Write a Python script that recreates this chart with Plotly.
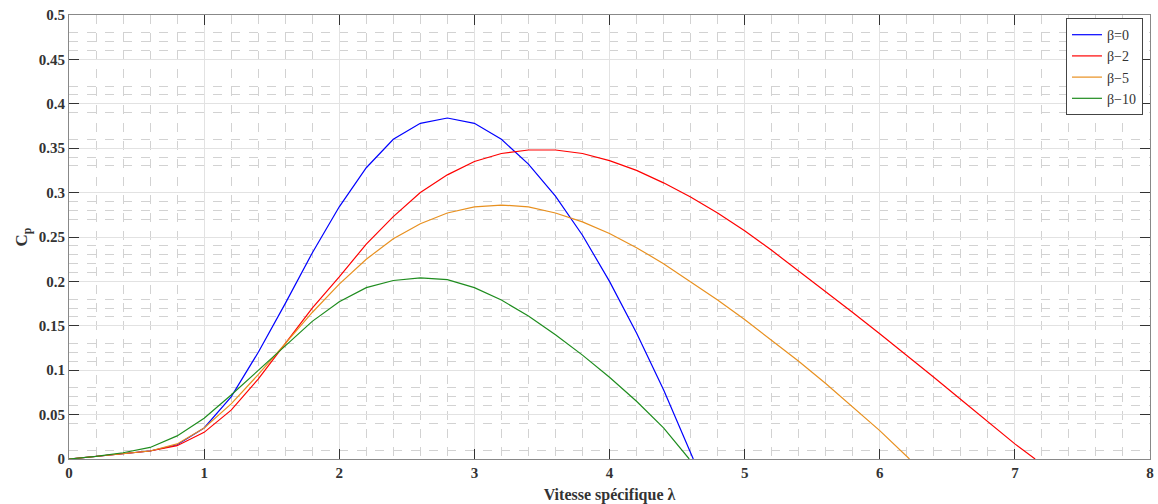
import plotly.graph_objects as go

x_b0 = [0, 0.2, 0.4, 0.6, 0.8, 1.0, 1.2, 1.4, 1.6, 1.8, 2.0, 2.2, 2.4, 2.6, 2.8, 3.0, 3.2, 3.4, 3.6, 3.8, 4.0, 4.2, 4.4, 4.62]
cp_b0 = [0, 0.003, 0.006, 0.009, 0.016, 0.035, 0.07, 0.12, 0.175, 0.232, 0.284, 0.328, 0.36, 0.378, 0.384, 0.378, 0.36, 0.332, 0.296, 0.252, 0.2, 0.142, 0.078, 0.0]

x_b2 = [0, 0.2, 0.4, 0.6, 0.8, 1.0, 1.2, 1.4, 1.6, 1.8, 2.0, 2.2, 2.4, 2.6, 2.8, 3.0, 3.2, 3.4, 3.6, 3.8, 4.0, 4.2, 4.4, 4.6, 4.8, 5.0, 5.2, 5.4, 5.6, 5.8, 6.0, 6.2, 6.4, 6.6, 6.8, 7.0, 7.15]
cp_b2 = [0, 0.003, 0.006, 0.009, 0.015, 0.03, 0.055, 0.09, 0.13, 0.17, 0.205, 0.242, 0.273, 0.3, 0.32, 0.335, 0.344, 0.348, 0.348, 0.344, 0.336, 0.325, 0.311, 0.295, 0.277, 0.257, 0.235, 0.212, 0.189, 0.165, 0.141, 0.117, 0.092, 0.067, 0.042, 0.017, 0.0]

x_b5 = [0, 0.2, 0.4, 0.6, 0.8, 1.0, 1.2, 1.4, 1.6, 1.8, 2.0, 2.2, 2.4, 2.6, 2.8, 3.0, 3.2, 3.4, 3.6, 3.8, 4.0, 4.2, 4.4, 4.6, 4.8, 5.0, 5.2, 5.4, 5.6, 5.8, 6.0, 6.22]
cp_b5 = [0, 0.003, 0.006, 0.009, 0.017, 0.035, 0.062, 0.095, 0.13, 0.165, 0.197, 0.225, 0.248, 0.265, 0.277, 0.284, 0.286, 0.284, 0.277, 0.267, 0.254, 0.238, 0.22, 0.2, 0.179, 0.157, 0.134, 0.11, 0.085, 0.059, 0.032, 0.0]

x_b10 = [0, 0.2, 0.4, 0.6, 0.8, 1.0, 1.2, 1.4, 1.6, 1.8, 2.0, 2.2, 2.4, 2.6, 2.8, 3.0, 3.2, 3.4, 3.6, 3.8, 4.0, 4.2, 4.4, 4.59]
cp_b10 = [0, 0.003, 0.007, 0.013, 0.026, 0.046, 0.072, 0.1, 0.128, 0.155, 0.177, 0.193, 0.201, 0.204, 0.202, 0.193, 0.179, 0.161, 0.14, 0.117, 0.092, 0.065, 0.035, 0.0]

legend_names = ["β=0", "β−2", "β−5", "β−10"]

# minor (dashed) grid positions visible in the reference
y_minor_grid = [0.01, 0.04, 0.06, 0.07, 0.08, 0.11, 0.12, 0.13, 0.16, 0.17, 0.18,
                0.21, 0.22, 0.23, 0.24, 0.27, 0.28, 0.29, 0.33, 0.34, 0.36, 0.39,
                0.41, 0.42, 0.46, 0.47, 0.48]

series = [
    (legend_names[0], x_b0, cp_b0, "#0000FF"),
    (legend_names[1], x_b2, cp_b2, "#FF0000"),
    (legend_names[2], x_b5, cp_b5, "#E8901F"),
    (legend_names[3], x_b10, cp_b10, "#1E8C1E"),
]

fig = go.Figure()
for name, xs, ys, col in series:
    fig.add_trace(go.Scatter(x=xs, y=ys, mode="lines", name=name,
                             line=dict(color=col, width=1.2)))

fig.update_layout(
    width=1158, height=504,
    margin=dict(l=69, r=4, t=15, b=43),
    paper_bgcolor="white", plot_bgcolor="white",
    font=dict(family="Liberation Serif", color="#333333"),
    showlegend=True,
    legend=dict(x=0.9935, y=0.993, xanchor="right", yanchor="top",
                bgcolor="white", bordercolor="#444444", borderwidth=1,
                font=dict(family="Liberation Serif", size=14, color="#333333"),
                tracegroupgap=0),
    xaxis=dict(
        range=[0, 8], tickmode="linear", tick0=0, dtick=1,
        showgrid=True, gridcolor="#E2E2E2", gridwidth=1,
        minor=dict(dtick=0.2, showgrid=True, gridcolor="#D2D2D2", griddash="dash", gridwidth=1),
        ticks="inside", ticklen=10, tickcolor="#333333",
        showline=True, linecolor="#888888", linewidth=1, mirror="ticks",
        zeroline=False, ticklabeloverflow="allow",
        tickfont=dict(family="Liberation Serif", size=15, color="#333333", weight="bold"),
        title=dict(text="<b>Vitesse spécifique λ</b>", standoff=8,
                   font=dict(family="Liberation Serif", size=16, color="#333333")),
    ),
    yaxis=dict(
        range=[0, 0.5], tickmode="linear", tick0=0, dtick=0.05,
        tickformat="~g",
        showgrid=True, gridcolor="#E2E2E2", gridwidth=1,
        minor=dict(tickmode="array", tickvals=y_minor_grid, showgrid=True,
                   gridcolor="#D2D2D2", griddash="dash", gridwidth=1),
        ticks="inside", ticklen=10, tickcolor="#333333",
        showline=True, linecolor="#888888", linewidth=1, mirror="ticks",
        zeroline=False,
        tickfont=dict(family="Liberation Serif", size=15, color="#333333", weight="bold"),
        title=dict(text="<b>C<sub>p</sub></b>", standoff=6,
                   font=dict(family="Liberation Serif", size=17, color="#333333")),
    ),
)

fig.write_html("out.html")
